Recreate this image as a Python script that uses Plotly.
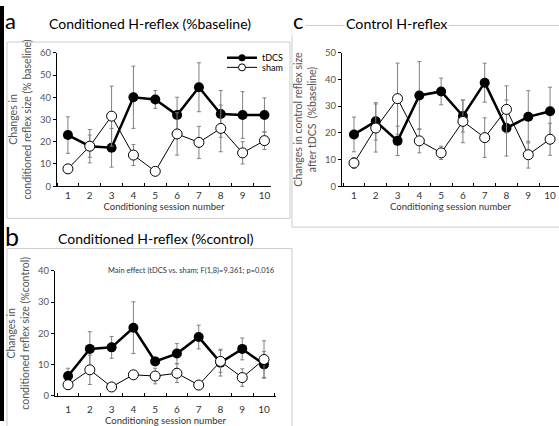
import plotly.graph_objects as go

W, H = 559, 426

sessions = [1, 2, 3, 4, 5, 6, 7, 8, 9, 10]
tick_labels = ["1", "2", "3", "4", "5", "6", "7", "8", "9", "10"]

# Panel a: Conditioned H-reflex (%baseline)
a_tdcs = [23.0, 18.0, 17.3, 40.0, 39.0, 32.0, 44.5, 32.5, 32.0, 32.0]
a_tdcs_err = [8.2, 7.5, 8.7, 14.0, 4.0, 8.0, 11.0, 10.5, 10.5, 7.7]
a_sham = [7.8, 18.0, 31.5, 14.0, 6.7, 23.5, 19.7, 26.0, 15.0, 20.5]
a_sham_err = [2.0, 5.0, 13.5, 4.7, 0.0, 9.5, 7.2, 10.5, 5.0, 4.0]

# Panel b: Conditioned H-reflex (%control)
b_tdcs = [6.3, 15.0, 15.5, 21.8, 11.0, 13.5, 18.8, 10.6, 15.0, 10.0]
b_tdcs_err = [2.5, 5.5, 3.5, 8.3, 1.3, 3.2, 3.8, 4.3, 3.5, 4.2]
b_sham = [3.5, 8.3, 2.8, 6.7, 6.3, 7.2, 3.4, 11.0, 5.8, 11.6]
b_sham_err = [0.8, 4.7, 0.3, 0.8, 2.5, 3.0, 0.5, 3.5, 2.8, 6.0]

# Panel c: Control H-reflex
c_tdcs = [19.4, 24.3, 17.0, 34.0, 35.5, 26.3, 38.8, 21.8, 26.0, 28.1]
c_tdcs_err = [6.5, 7.0, 5.5, 12.7, 5.0, 6.0, 7.3, 10.5, 9.8, 9.0]
c_sham = [8.7, 21.8, 32.8, 17.0, 12.5, 24.3, 18.2, 28.8, 11.8, 17.6]
c_sham_err = [2.0, 9.0, 13.3, 4.5, 2.5, 8.0, 7.4, 8.8, 5.0, 6.0]

FONT = "Lato"
GRAY = "#555555"
ERR = "#808080"


def px_x(p):
    return p / W


def px_y(p):
    return 1 - p / H


fig = go.Figure()

TDCS_LINE = dict(color="black", width=2.5)
TDCS_MARK = dict(symbol="circle", size=10, color="black")
SHAM_LINE = dict(color="black", width=1)
SHAM_MARK = dict(symbol="circle", size=10, color="white", line=dict(color="black", width=1))


def add_pair(tdcs, tdcs_err, sham, sham_err, xa, ya):
    fig.add_trace(go.Scatter(
        x=sessions, y=tdcs, name="tDCS", xaxis=xa, yaxis=ya,
        mode="lines+markers", showlegend=False,
        line=TDCS_LINE, marker=TDCS_MARK,
        error_y=dict(type="data", array=tdcs_err, color=ERR, thickness=1, width=2),
    ))
    fig.add_trace(go.Scatter(
        x=sessions, y=sham, name="sham", xaxis=xa, yaxis=ya,
        mode="lines+markers", showlegend=False,
        line=SHAM_LINE, marker=SHAM_MARK,
        error_y=dict(type="data", array=sham_err, color=ERR, thickness=1, width=2),
    ))


add_pair(a_tdcs, a_tdcs_err, a_sham, a_sham_err, "x", "y")
add_pair(b_tdcs, b_tdcs_err, b_sham, b_sham_err, "x2", "y2")
add_pair(c_tdcs, c_tdcs_err, c_sham, c_sham_err, "x3", "y3")

# legend entries (smaller symbols, as in the reference legend)
fig.add_trace(go.Scatter(
    x=[None], y=[None], name="tDCS", mode="lines+markers", legend="legend",
    line=dict(color="black", width=2.5), marker=dict(symbol="circle", size=7, color="black"),
))
fig.add_trace(go.Scatter(
    x=[None], y=[None], name="sham", mode="lines+markers", legend="legend2",
    line=dict(color="black", width=1),
    marker=dict(symbol="circle", size=7, color="white", line=dict(color="black", width=1)),
))


def xaxis_cfg(domain, rng, anchor, label_pad=0, title_pad=0):
    return dict(
        domain=domain, range=rng, anchor=anchor,
        tickmode="array", tickvals=sessions, ticktext=tick_labels,
        ticks="", showline=True, linecolor="black", linewidth=1,
        showgrid=False, zeroline=False, ticklabelstandoff=label_pad,
        tickfont=dict(family=FONT, size=10, color="#333333"),
        minor=dict(tickmode="linear", tick0=0.5, dtick=1, ticks="inside",
                   ticklen=3, tickcolor="black", showgrid=False),
        title=dict(text="Conditioning session number", standoff=title_pad,
                   font=dict(family=FONT, size=9.5, color="#333333")),
        fixedrange=True,
    )


def yaxis_cfg(domain, rng, dtick, anchor, title):
    return dict(
        domain=domain, range=rng, anchor=anchor,
        tickmode="linear", tick0=0, dtick=dtick,
        ticks="outside", ticklen=3, tickcolor="black",
        showline=True, linecolor="black", linewidth=1,
        showgrid=False, zeroline=False,
        tickfont=dict(family=FONT, size=9.5, color=GRAY),
        title=dict(text=title, standoff=6,
                   font=dict(family=FONT, size=10.5, color=GRAY)),
        fixedrange=True,
    )


LEG = dict(xanchor="left", yanchor="middle", bgcolor="rgba(0,0,0,0)",
           font=dict(family=FONT, size=9, color="black"), itemwidth=30,
           borderwidth=0)

fig.update_layout(
    width=W, height=H,
    margin=dict(l=0, r=0, t=0, b=0),
    paper_bgcolor="white", plot_bgcolor="white",
    xaxis=xaxis_cfg([px_x(57), px_x(271)], [0.5, 10.3], "y", 0, 0),
    yaxis=yaxis_cfg([px_y(185), px_y(48)], [0, 60], 10, "x",
                    "Changes in<br>conditioned reflex size (% baseline)"),
    xaxis2=xaxis_cfg([px_x(55), px_x(276)], [0.4, 10.55], "y2", 4, 3),
    yaxis2=yaxis_cfg([px_y(400), px_y(272)], [0, 40], 10, "x2",
                     "Changes in<br>conditioned reflex size (%control)"),
    xaxis3=xaxis_cfg([px_x(342), 1.0], [0.45, 10.41], "y3", 0, 0),
    yaxis3=yaxis_cfg([px_y(185), px_y(48)], [0, 50], 10, "x3",
                     "Changes in control reflex size<br>after tDCS  (%baseline)"),
    legend=dict(x=px_x(222), y=px_y(53), **LEG),
    legend2=dict(x=px_x(222), y=px_y(63), **LEG),
    showlegend=True,
)

shapes = [
    dict(type="rect", xref="paper", yref="paper", x0=0, x1=px_x(4), y0=0, y1=1,
         fillcolor="black", line=dict(width=0)),
    dict(type="rect", xref="paper", yref="paper", x0=px_x(7), x1=px_x(290),
         y0=px_y(218), y1=px_y(37), line=dict(color="#cccccc", width=1)),
    dict(type="rect", xref="paper", yref="paper", x0=px_x(7), x1=px_x(292),
         y0=px_y(432), y1=px_y(249), line=dict(color="#cccccc", width=1)),
    dict(type="rect", xref="paper", yref="paper", x0=px_x(292), x1=px_x(565),
         y0=px_y(227), y1=px_y(20), line=dict(color="#cccccc", width=1)),
]
fig.update_layout(shapes=shapes)

ann = [
    dict(text="a", x=px_x(10), y=px_y(15), xanchor="center", yanchor="middle",
         font=dict(family=FONT, size=22, color="black")),
    dict(text="Conditioned H-reflex (%baseline)", x=px_x(47), y=px_y(18),
         xanchor="left", yanchor="middle", font=dict(family=FONT, size=14, color="black")),
    dict(text="c", x=px_x(298), y=px_y(15), xanchor="center", yanchor="middle",
         bgcolor="white", font=dict(family=FONT, size=22, color="black")),
    dict(text="Control H-reflex", x=px_x(344), y=px_y(18), xanchor="left", yanchor="middle",
         bgcolor="white", font=dict(family=FONT, size=14.2, color="black")),
    dict(text="b", x=px_x(12), y=px_y(236), xanchor="center", yanchor="middle",
         font=dict(family=FONT, size=25, color="black")),
    dict(text="Conditioned H-reflex (%control)", x=px_x(56), y=px_y(239),
         xanchor="left", yanchor="middle", font=dict(family=FONT, size=14, color="black")),
    dict(text="Main effect (tDCS vs. sham; F(1,8)=9.361; p=0.016", x=px_x(277), y=px_y(272),
         xanchor="right", yanchor="middle", font=dict(family=FONT, size=7.5, color="#333333")),
]
for a in ann:
    a.update(xref="paper", yref="paper", showarrow=False)
fig.update_layout(annotations=ann)

fig.write_html("out.html", config={"displayModeBar": False},
               post_script="document.body.style.margin='0px';")
